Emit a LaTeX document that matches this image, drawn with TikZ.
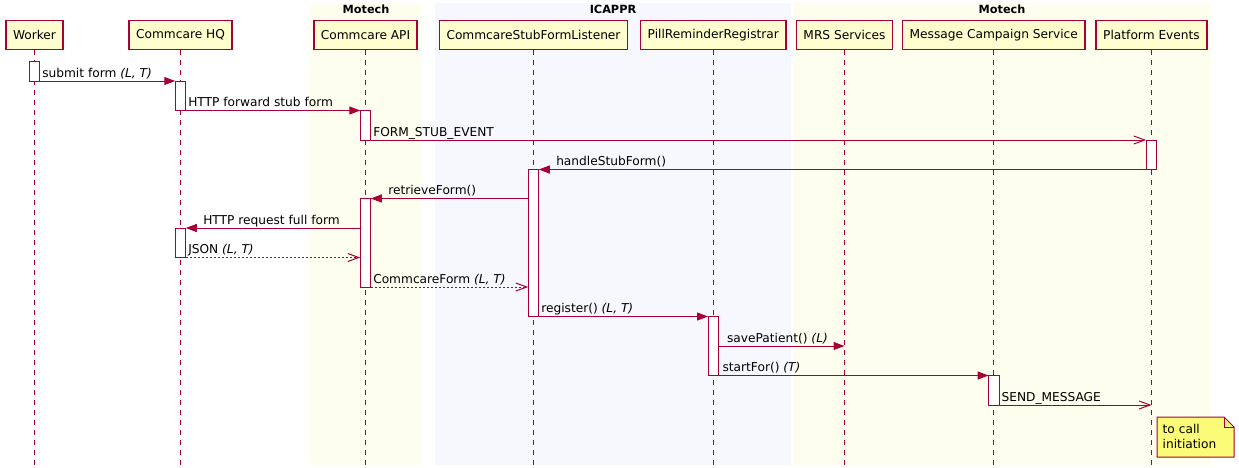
\documentclass[tikz,border=0pt]{standalone}
\usepackage{fontspec}
\setmainfont{DejaVu Sans}
\usepackage{xcolor}
\usepackage{tikz}
\usetikzlibrary{arrows.meta}

\definecolor{umlred}{HTML}{A80036}
\definecolor{partfill}{HTML}{FEFECE}
\definecolor{motechbg}{HTML}{FEFEEF}
\definecolor{icapprbg}{HTML}{F7F8FD}
\definecolor{notefill}{HTML}{FBFB77}

\begin{document}
\begin{tikzpicture}[
        x=1pt, y=-1pt,
        font=\fontsize{12.2}{15}\selectfont,
        participant/.style={rectangle, draw=umlred, line width=1.5pt, fill=partfill, minimum height=29pt, inner xsep=7pt},
        lifeline/.style={umlred, line width=1pt, dash pattern=on 5pt off 5pt},
        activation/.style={rectangle, draw=umlred, line width=1pt, fill=white, minimum width=10.5pt, inner sep=0pt, outer sep=0pt},
        call/.style={umlred, line width=1pt, -{Triangle[length=11pt, width=8pt]}},
        signal/.style={umlred, line width=1pt, -{Straight Barb[length=11pt, width=8pt]}},
        reply/.style={umlred, line width=1pt, dash pattern=on 2pt off 2pt, -{Straight Barb[length=11pt, width=8pt]}},
        msg/.style={text=black, inner sep=0pt, anchor=base west, yshift=4pt},
        grouptitle/.style={font=\fontsize{11.3}{14}\selectfont\bfseries}
    ]
        \useasboundingbox (0,0) rectangle (1239,467);
        \coordinate (bottom) at (0,467);

        % Boxes
        \fill[motechbg] (310,2.5) rectangle (421.5,465);
        \fill[icapprbg] (435,2.5) rectangle (791,465);
        \fill[motechbg] (793.3,2.5) rectangle (1210.5,465);
        \node[grouptitle] (motechApiTitle) at (366,9.5) {Motech};
        \node[grouptitle] (icapprTitle) at (613,9.5) {ICAPPR};
        \node[grouptitle] (motechTitle) at (1002,9.5) {Motech};

        % Participants
        \node[participant] (worker) at (34.5,35) {Worker};
        \node[participant] (hq) at (180.5,35) {Commcare HQ};
        \node[participant] (api) at (365.5,35) {Commcare API};
        \node[participant] (listener) at (533.5,35) {CommcareStubFormListener};
        \node[participant] (registrar) at (713.3,35) {PillReminderRegistrar};
        \node[participant] (mrs) at (844.5,35) {MRS Services};
        \node[participant] (campaign) at (993.8,35) {Message Campaign Service};
        \node[participant] (events) at (1151.5,35) {Platform Events};

        % Lifelines
        \draw[lifeline] (worker.south) -- (worker.south |- bottom);
        \draw[lifeline] (hq.south) -- (hq.south |- bottom);
        \draw[lifeline] (api.south) -- (api.south |- bottom);
        \draw[lifeline] (listener.south) -- (listener.south |- bottom);
        \draw[lifeline] (registrar.south) -- (registrar.south |- bottom);
        \draw[lifeline] (mrs.south) -- (mrs.south |- bottom);
        \draw[lifeline] (campaign.south) -- (campaign.south |- bottom);
        \draw[lifeline] (events.south) -- (events.south |- bottom);

        % Activations
        \node[activation, minimum height=20pt] (workerAct) at (34.5,71) {};
        \node[activation, minimum height=29.5pt] (hqAct) at (180.5,95.75) {};
        \node[activation, minimum height=29.5pt] (apiAct) at (365.5,125.25) {};
        \node[activation, minimum height=29.5pt] (eventsAct) at (1151.5,154.75) {};
        \node[activation, minimum height=147pt] (listenerAct) at (533.5,243) {};
        \node[activation, minimum height=88.5pt] (apiFetchAct) at (365.5,242.75) {};
        \node[activation, minimum height=29.5pt] (hqFetchAct) at (180.5,242.75) {};
        \node[activation, minimum height=59pt] (registrarAct) at (713.3,346) {};
        \node[activation, minimum height=29.5pt] (campaignAct) at (993.8,390.25) {};

        % Form submission
        \draw[call] (workerAct.south east) -- (hqAct.north west)
            node[msg, pos=0, xshift=2pt] {submit form \textit{(L, T)}};
        \draw[call] (hqAct.south east) -- (apiAct.north west)
            node[msg, pos=0, xshift=2pt] {HTTP forward stub form};
        \draw[signal] (apiAct.south east) -- (eventsAct.north west)
            node[msg, pos=0, xshift=2pt] {FORM\_STUB\_EVENT};
        \draw[call] (eventsAct.south west) -- (listenerAct.north east)
            node[msg, pos=1, xshift=17pt] {handleStubForm()};

        % Fetching the full form
        \draw[call] (listenerAct.west |- apiFetchAct.north) -- (apiFetchAct.north east)
            node[msg, pos=1, xshift=17pt] {retrieveForm()};
        \draw[call] (apiFetchAct.west |- hqFetchAct.north) -- (hqFetchAct.north east)
            node[msg, pos=1, xshift=17pt] {HTTP request full form};
        \draw[reply] (hqFetchAct.south east) -- (apiFetchAct.west |- hqFetchAct.south)
            node[msg, pos=0, xshift=2pt] {JSON \textit{(L, T)}};
        \draw[reply] (apiFetchAct.south east) -- (listenerAct.west |- apiFetchAct.south)
            node[msg, pos=0, xshift=2pt] {CommcareForm \textit{(L, T)}};

        % Registration
        \draw[call] (listenerAct.south east) -- (registrarAct.north west)
            node[msg, pos=0, xshift=2pt] {register() \textit{(L, T)}};
        \draw[call] (registrarAct.east) -- (registrarAct.east -| mrs.south)
            node[msg, pos=0, xshift=8pt] {savePatient() \textit{(L)}};
        \draw[call] (registrarAct.south east) -- (campaignAct.north west)
            node[msg, pos=0, xshift=3.5pt] {startFor() \textit{(T)}};
        \draw[signal] (campaignAct.south east) -- (campaignAct.south east -| events.south)
            node[msg, pos=0, xshift=2pt] {SEND\_MESSAGE};

        % Note
        \draw[umlred, line width=1pt, fill=notefill] (1157,417) -- (1224,417) -- (1234,427) -- (1234,457) -- (1157,457) -- cycle;
        \draw[umlred, line width=1pt] (1224,417) -- (1224,427) -- (1234,427);
        \node[anchor=north west, inner sep=0pt, align=left] (note) at (1162.5,424.5) {to call\\initiation};

    \end{tikzpicture}
\end{document}
